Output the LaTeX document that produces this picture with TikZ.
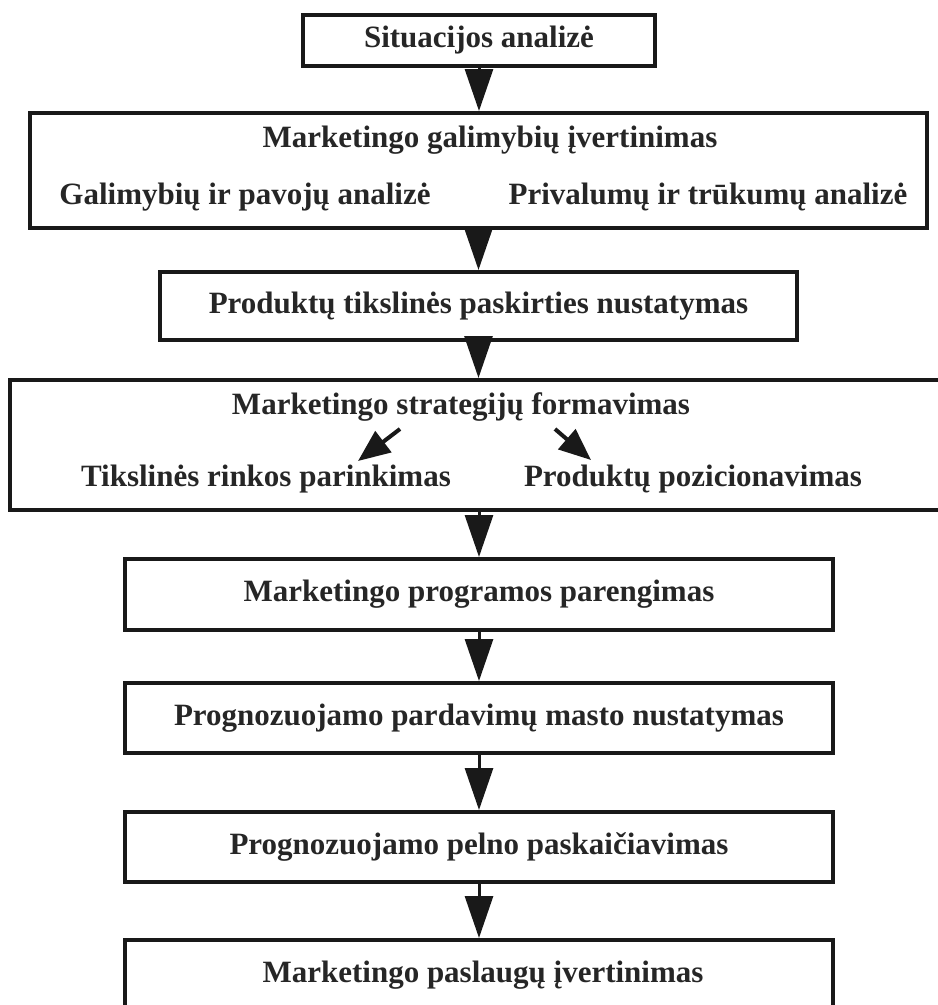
\documentclass[tikz,border=0pt]{standalone}
\usepackage{fontspec}
\setmainfont{Liberation Serif}
\usetikzlibrary{arrows.meta}
\begin{document}
\begin{tikzpicture}[x=1pt,y=-1pt,
  box/.style={draw=black!90, line width=4pt, inner sep=0pt},
  lbl/.style={font=\fontsize{31}{35}\selectfont\bfseries, text=black!85, inner sep=0pt},
  arr/.style={draw=black!90, line width=3pt, -{Triangle[length=42pt,width=28pt]}},
  sarr/.style={draw=black!90, line width=4pt, -{Triangle[length=32pt,width=26pt]}}]
\useasboundingbox (0,0) rectangle (938,1005);
% boxes
\node[box, lbl, minimum width=352pt, minimum height=51pt] (b1) at (479,40.5) {Situacijos analizė};
\node[box, minimum width=897pt, minimum height=115pt] (b2) at (478.5,170.5) {};
\node[box, lbl, minimum width=637pt, minimum height=68pt] (b3) at (478.5,306) {Produktų tikslinės paskirties nustatymas};
\node[box, minimum width=935pt, minimum height=130pt] (b4) at (477.5,445) {};
\node[box, lbl, minimum width=708pt, minimum height=71pt] (b5) at (479,594.5) {Marketingo programos parengimas};
\node[box, lbl, minimum width=708pt, minimum height=70pt] (b6) at (479,718) {Prognozuojamo pardavimų masto nustatymas};
\node[box, lbl, minimum width=708pt, minimum height=70pt] (b7) at (479,847) {Prognozuojamo pelno paskaičiavimas};
\node[box, minimum width=708pt, minimum height=80pt] (b8) at (479,980) {};
% texts inside composite boxes
\node[lbl] (t2) at (490,140) {Marketingo galimybių įvertinimas};
\node[lbl] (t2a) at (245,197) {Galimybių ir pavojų analizė};
\node[lbl] (t2b) at (708,197) {Privalumų ir trūkumų analizė};
\node[lbl] (t4) at (461,407) {Marketingo strategijų formavimas};
\node[lbl] (t4a) at (266,479) {Tikslinės rinkos parinkimas};
\node[lbl] (t4b) at (693,479) {Produktų pozicionavimas};
\node[lbl] (t8) at (483,975) {Marketingo paslaugų įvertinimas};
% inner arrows
\coordinate (l1) at (400,429);
\coordinate (l2) at (358,461);
\coordinate (r1) at (555,429);
\coordinate (r2) at (591,460);
\draw[sarr] (l1) -- (l2);
\draw[sarr] (r1) -- (r2);
% main arrows
\draw[arr] (b1.south) -- (b1.south |- b2.north);
\draw[arr] (b2.south) -- (b2.south |- b3.north);
\draw[arr] (b3.south) -- (b3.south |- b4.north);
\draw[arr] (b4.south -| b5.north) -- (b5.north);
\draw[arr] (b5.south) -- (b6.north);
\draw[arr] (b6.south) -- (b7.north);
\draw[arr] (b7.south) -- (b8.north);
\end{tikzpicture}
\end{document}
